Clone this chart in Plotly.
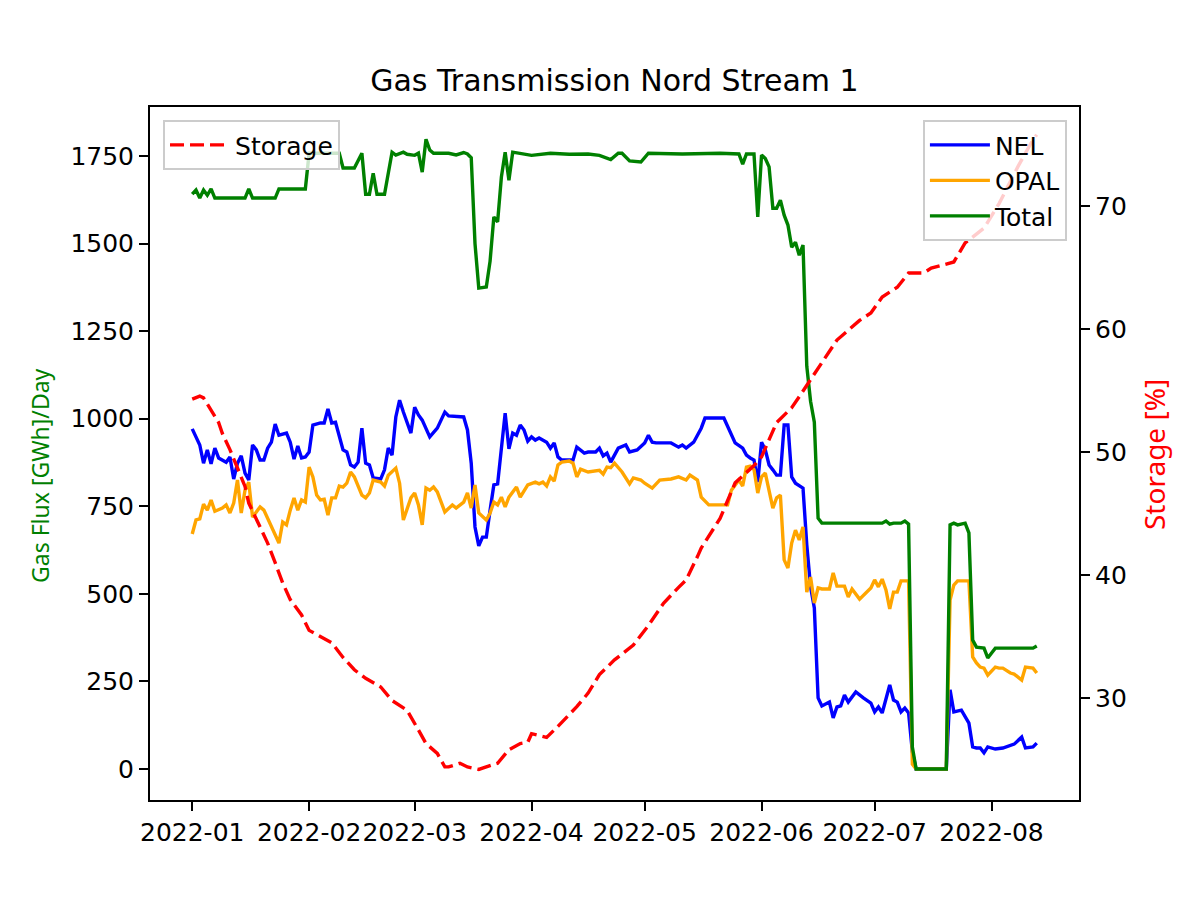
import pandas as pd
import plotly.graph_objects as go

BASE = pd.Timestamp("2022-01-01")

# (day offset from 2022-01-01, value) pairs
nel = [(0,971),(1,948),(2,925),(3,873),(4,911),(5,871),(6,916),(7,888),(9,876),(10,891),(11,828),(12,873),(13,894),(14,845),(15,825),(16,925),(17,911),(18,882),(19,882),(20,916),(21,933),(22,985),(23,953),(25,959),(26,933),(27,885),(28,922),(29,888),(30,891),(31,905),(32,982),(34,988),(35,988),(36,1028),(37,988),(38,990),(40,911),(41,905),(42,868),(43,862),(44,876),(45,973),(46,873),(47,868),(48,831),(50,828),(51,854),(52,916),(53,896),(54,1005),(55,1053),(56,1019),(57,991),(58,959),(59,1033),(60,1011),(61,996),(63,948),(65,973),(67,1019),(68,1008),(72,1005),(73,968),(74,873),(75,691),(76,637),(77,662),(78,662),(79,739),(80,811),(81,814),(82,911),(83,1016),(84,914),(85,959),(86,953),(87,982),(88,968),(89,936),(90,948),(91,939),(92,945),(94,933),(95,916),(96,931),(97,891),(98,882),(101,882),(102,919),(104,902),(105,905),(107,905),(108,916),(109,894),(110,902),(111,876),(113,916),(115,925),(116,905),(118,911),(120,931),(121,953),(122,933),(123,931),(127,931),(129,919),(130,925),(131,916),(133,933),(135,973),(136,1002),(141,1002),(143,953),(144,931),(146,916),(147,896),(148,888),(149,882),(150,819),(151,933),(152,911),(153,868),(154,854),(155,839),(156,839),(157,982),(158,982),(159,834),(160,816),(161,810),(162,802),(163,640),(164,520),(165,460),(166,203),(167,180),(169,191),(170,146),(171,177),(172,180),(173,211),(174,191),(176,220),(178,203),(180,188),(181,163),(182,177),(183,160),(185,240),(186,197),(187,191),(188,163),(189,174),(190,160),(191,49),(192,0),(200,0),(201,226),(202,163),(204,168),(206,131),(207,63),(208,60),(209,60),(210,46),(211,63),(213,57),(215,60),(217,69),(218,71),(220,91),(221,60),(223,63),(224,74)]

opal = [(0,671),(1,711),(2,714),(3,756),(4,739),(5,768),(6,736),(7,740),(8,745),(9,754),(10,731),(11,759),(12,825),(13,731),(14,796),(15,819),(16,719),(17,734),(18,748),(19,739),(21,691),(23,645),(24,705),(25,697),(26,739),(27,774),(28,739),(29,768),(30,762),(31,862),(32,834),(33,782),(34,768),(35,770),(36,725),(37,774),(38,774),(39,808),(40,805),(41,816),(42,848),(43,834),(45,782),(46,774),(47,788),(48,825),(50,819),(51,808),(52,839),(54,859),(55,816),(56,711),(58,774),(59,788),(60,754),(61,697),(62,802),(63,796),(64,805),(65,791),(67,734),(69,754),(70,745),(72,762),(73,788),(74,745),(75,811),(76,731),(78,711),(79,731),(80,762),(81,754),(82,776),(83,748),(84,776),(86,805),(87,776),(88,796),(89,811),(91,819),(92,814),(93,819),(94,808),(95,834),(96,822),(97,868),(98,876),(100,879),(101,873),(102,834),(103,856),(105,848),(108,853),(109,842),(110,862),(111,860),(112,873),(114,848),(116,814),(117,831),(119,825),(120,816),(122,802),(124,825),(127,828),(129,834),(131,825),(132,839),(134,825),(135,776),(137,754),(142,754),(143,796),(145,825),(146,808),(147,862),(148,865),(149,855),(150,788),(151,834),(152,845),(154,745),(155,774),(156,782),(157,597),(158,574),(159,645),(160,682),(161,654),(162,691),(163,505),(164,548),(165,474),(166,517),(167,514),(169,514),(170,560),(171,522),(173,522),(174,491),(175,514),(177,485),(179,505),(180,517),(181,540),(182,520),(183,542),(184,511),(185,457),(186,505),(187,505),(188,537),(190,537),(191,14),(192,0),(200,0),(201,482),(202,525),(203,537),(206,537),(207,320),(208,303),(209,291),(210,288),(211,268),(213,291),(214,288),(215,288),(217,274),(218,271),(220,254),(221,291),(223,288),(224,274)]

total = [(0,1641),(1,1653),(2,1630),(3,1653),(4,1638),(5,1656),(6,1630),(14,1630),(15,1656),(16,1630),(22,1630),(23,1656),(30,1656),(31,1758),(39,1758),(40,1716),(43,1716),(45,1758),(46,1641),(47,1641),(48,1701),(49,1641),(51,1641),(53,1761),(54,1753),(56,1761),(57,1755),(59,1752),(60,1758),(61,1704),(62,1798),(63,1767),(64,1758),(68,1758),(70,1753),(72,1760),(73,1756),(74,1745),(75,1500),(76,1373),(78,1376),(79,1450),(80,1576),(81,1562),(82,1690),(83,1761),(84,1681),(85,1761),(90,1752),(95,1758),(100,1755),(105,1756),(108,1752),(111,1740),(113,1758),(114,1758),(116,1736),(119,1733),(121,1758),(130,1756),(140,1758),(145,1756),(146,1727),(147,1756),(149,1756),(150,1576),(151,1753),(152,1743),(153,1719),(154,1601),(155,1601),(156,1624),(157,1581),(158,1553),(159,1490),(160,1504),(161,1467),(162,1496),(163,1150),(164,1050),(165,990),(166,716),(167,702),(183,702),(184,708),(185,699),(186,702),(188,702),(189,708),(190,699),(191,63),(192,0),(200,0),(201,697),(202,702),(203,697),(205,702),(206,674),(207,368),(208,348),(210,345),(211,317),(213,345),(223,345),(224,351)]

storage = [(0,54.3),(2,54.55),(3,54.4),(5,53.4),(7,52.4),(8,51.5),(10,50.2),(12,48.7),(14,47.2),(15,45.85),(17,44.5),(20,42.6),(22,41.0),(24,39.35),(26,38.0),(29,36.75),(31,35.5),(34,35.0),(37,34.5),(40,33.3),(43,32.3),(46,31.6),(50,30.9),(53,29.8),(57,29.0),(60,27.4),(62,26.3),(65,25.5),(67,24.4),(68,24.4),(71,24.7),(73,24.4),(76,24.2),(81,24.7),(84,25.8),(87,26.3),(89,26.4),(90,27.1),(94,26.8),(97,27.7),(102,29.3),(105,30.4),(108,31.9),(112,33.1),(116,34.0),(117,34.3),(121,35.9),(125,37.7),(129,39.0),(131,39.6),(134,41.5),(135,42.2),(140,44.6),(144,47.5),(149,48.9),(151,49.6),(155,52.4),(159,53.6),(161,54.5),(164,55.9),(167,57.2),(171,59.1),(174,59.9),(177,60.7),(180,61.3),(183,62.6),(187,63.4),(190,64.55),(194,64.55),(196,64.95),(202,65.45),(205,67.0),(210,68.2),(214,70.2),(219,73.2),(223,75.4),(224,75.8)]

month_ticks = ["2022-01", "2022-02", "2022-03", "2022-04", "2022-05", "2022-06", "2022-07", "2022-08"]
flux_ticks = [0, 250, 500, 750, 1000, 1250, 1500, 1750]
storage_ticks = [30, 40, 50, 60, 70]


def unpack(pairs):
    days = [p[0] for p in pairs]
    vals = [p[1] for p in pairs]
    return [BASE + pd.Timedelta(days=d) for d in days], vals


FONT = "DejaVu Sans"
fig = go.Figure()
for name, pairs, color in [("NEL", nel, "blue"), ("OPAL", opal, "orange"), ("Total", total, "green")]:
    x, y = unpack(pairs)
    fig.add_trace(go.Scatter(x=x, y=y, name=name, mode="lines", showlegend=True,
                             line=dict(color=color, width=3.4), legend="legend2"))
x, y = unpack(storage)
fig.add_trace(go.Scatter(x=x, y=y, name="Storage", mode="lines", yaxis="y2", showlegend=True,
                         line=dict(color="red", width=3.4, dash="14px,6px"), legend="legend"))

axis_style = dict(showgrid=False, zeroline=False, showline=True, linecolor="black", linewidth=2,
                  ticks="outside", ticklen=9, tickwidth=2, tickcolor="black", automargin=False,
                  tickfont=dict(family=FONT, size=25, color="black"))

legend_style = dict(yanchor="top", bgcolor="rgba(255,255,255,0.8)", bordercolor="#cccccc",
                    borderwidth=2, itemwidth=60, tracegroupgap=0,
                    font=dict(family=FONT, size=25, color="black"))

fig.update_layout(
    width=1200, height=900,
    showlegend=True,
    margin=dict(l=150, r=121, t=107, b=100),
    paper_bgcolor="white", plot_bgcolor="white",
    title=dict(text="Gas Transmission Nord Stream 1", x=0.512, xanchor="center",
               y=1 - 80 / 900, yanchor="middle", yref="container",
               font=dict(family=FONT, size=30, color="black")),
    xaxis=dict(type="date", range=[BASE - pd.Timedelta(days=11.2), BASE + pd.Timedelta(days=235.2)],
               tickvals=[pd.Timestamp(m + "-01") for m in month_ticks], ticktext=month_ticks,
               tickangle=0, mirror=True, **axis_style),
    yaxis=dict(range=[-88.5, 1890], tickvals=flux_ticks, mirror=True, **axis_style),
    yaxis2=dict(range=[21.71, 78.05], tickvals=storage_ticks, overlaying="y", side="right", **axis_style),
    legend=dict(x=0.014, y=0.981, xanchor="left", **legend_style),
    legend2=dict(x=0.987, y=0.981, xanchor="right", **legend_style),
    annotations=[
        dict(text="Gas Flux [GWh]/Day", textangle=-90, xref="paper", yref="paper",
             x=(40 - 150) / 929, y=(800 - 476) / 693, xanchor="center", yanchor="middle",
             showarrow=False, font=dict(family="Noto Sans", size=23, color="green")),
        dict(text="Storage [%]", textangle=-90, xref="paper", yref="paper",
             x=(1154 - 150) / 929, y=(800 - 455) / 693, xanchor="center", yanchor="middle",
             showarrow=False, font=dict(family="Noto Sans", size=28, color="red")),
    ],
)

fig.write_html("out.html")
